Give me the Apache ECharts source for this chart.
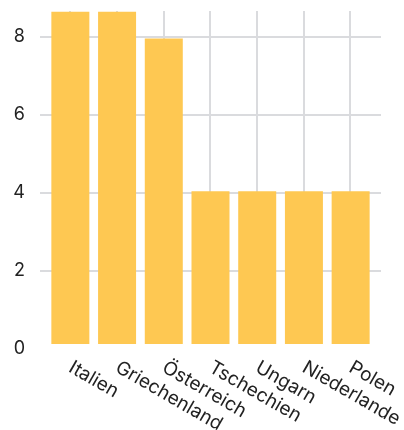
<!DOCTYPE html>
<html><head><meta charset="utf-8">
<script src="https://cdn.jsdelivr.net/npm/echarts@6/dist/echarts.min.js"></script>
<style>html,body{margin:0;padding:0;background:#fff}#c{width:404px;height:430px}</style>
</head><body><div id="c"></div>
<script>
const categories = ['Italien','Griechenland','Österreich','Tschechien','Ungarn','Niederlande','Polen'];
const values = [8.7, 8.7, 8, 4, 4, 4, 4];
const yTicks = [0, 2, 4, 6, 8];

const FONT = 'Inter';
const GRID_COLOR = '#dadbde';
const chart = echarts.init(document.getElementById('c'), null, {renderer:'canvas'});
chart.setOption({
  animation: false,
  grid: [
    {left: 40, right: 23, top: 11, bottom: 81, outerBoundsMode: 'none', containLabel: false},   // horizontal lines + y labels
    {left: 47, right: 30, top: 11, bottom: 86, outerBoundsMode: 'none', containLabel: false},   // bars
    {left: 70, right: 54, top: 11, bottom: 86, outerBoundsMode: 'none', containLabel: false}    // vertical lines
  ],
  xAxis: [
    {gridIndex: 0, type: 'value', show: false},
    {gridIndex: 1, type: 'category', data: categories, boundaryGap: true,
      axisLine: {show: false}, axisTick: {show: false}, splitLine: {show: false},
      axisLabel: {interval: 0, hideOverlap: false, rotate: -30, margin: 22, fontFamily: FONT, fontSize: 19, color: '#222'}},
    {gridIndex: 2, type: 'category', data: categories, boundaryGap: false,
      axisLine: {show: false}, axisTick: {show: false}, axisLabel: {show: false},
      splitLine: {show: true, interval: 0, lineStyle: {color: GRID_COLOR, width: 2}}}
  ],
  yAxis: [
    {gridIndex: 0, type: 'value', min: 0, max: 8 + 26/39, interval: 2,
      axisLine: {show: false}, axisTick: {show: false},
      axisLabel: {margin: 15, fontFamily: FONT, fontSize: 18, color: '#222', showMaxLabel: false,
        formatter: v => yTicks.includes(v) ? String(v) : ''},
      splitLine: {show: true, showMinLine: false, showMaxLine: false, lineStyle: {color: GRID_COLOR, width: 2}}},
    {gridIndex: 1, type: 'value', min: 0, max: 8.72, show: false},
    {gridIndex: 2, type: 'value', min: 0, max: 1, show: false}
  ],
  series: [{
    type: 'bar', xAxisIndex: 1, yAxisIndex: 1, data: values,
    barWidth: 38, itemStyle: {color: '#fec852'}, clip: true
  }]
});
</script></body></html>
